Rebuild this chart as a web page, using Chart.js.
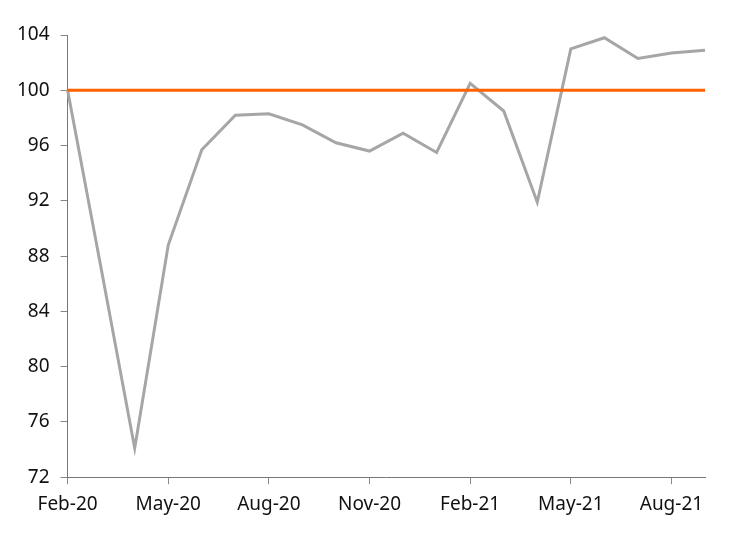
<!DOCTYPE html>
<html>
<head>
<meta charset="utf-8">
<script src="https://cdn.jsdelivr.net/npm/chart.js@4/dist/chart.umd.min.js"></script>
<style>
  html, body { margin:0; padding:0; background:#fff; }
</style>
</head>
<body>
<canvas id="chart" width="753" height="540"></canvas>
<script>
const months = ['Feb-20','Mar-20','Apr-20','May-20','Jun-20','Jul-20','Aug-20','Sep-20','Oct-20','Nov-20','Dec-20',
  'Jan-21','Feb-21','Mar-21','Apr-21','May-21','Jun-21','Jul-21','Aug-21','Sep-21'];
const activity = [100, 87.1, 74.1, 88.8, 95.7, 98.2, 98.3, 97.5, 96.2, 95.6, 96.9,
  95.5, 100.5, 98.5, 91.9, 103.0, 103.8, 102.3, 102.7, 102.9];
const baseline = [100,100,100,100,100,100,100,100,100,100,100,100,100,100,100,100,100,100,100,100];
const yTicks = [72, 76, 80, 84, 88, 92, 96, 100, 104];

const font = { family: "'Noto Sans', sans-serif", size: 19 };

new Chart(document.getElementById('chart'), {
  type: 'line',
  data: {
    labels: months,
    datasets: [
      { data: baseline, borderColor: '#FF6200', borderWidth: 3, pointRadius: 0, order: 1 },
      { data: activity, borderColor: '#A6A6A6', borderWidth: 3, pointRadius: 0, order: 2 }
    ]
  },
  options: {
    responsive: false,
    animation: false,
    devicePixelRatio: 1,
    layout: { padding: { top: 35, right: 48, left: 6, bottom: 15 } },
    plugins: { legend: { display: false }, tooltip: { enabled: false } },
    scales: {
      x: {
        offset: false,
        grid: { drawOnChartArea: false, color: '#888', tickLength: 7 },
        border: { color: '#777', width: 1 },
        ticks: {
          autoSkip: false, maxRotation: 0, color: '#111', font: font, padding: 9,
          callback: function(v, i) { return i % 3 === 0 ? months[i] : null; }
        }
      },
      y: {
        min: 72, max: 104,
        afterBuildTicks: axis => { axis.ticks = yTicks.map(v => ({ value: v })); },
        grid: { drawOnChartArea: false, color: '#888', tickLength: 7 },
        border: { color: '#777', width: 1 },
        ticks: { color: '#111', font: font, padding: 11 }
      }
    }
  }
});
</script>
</body>
</html>
